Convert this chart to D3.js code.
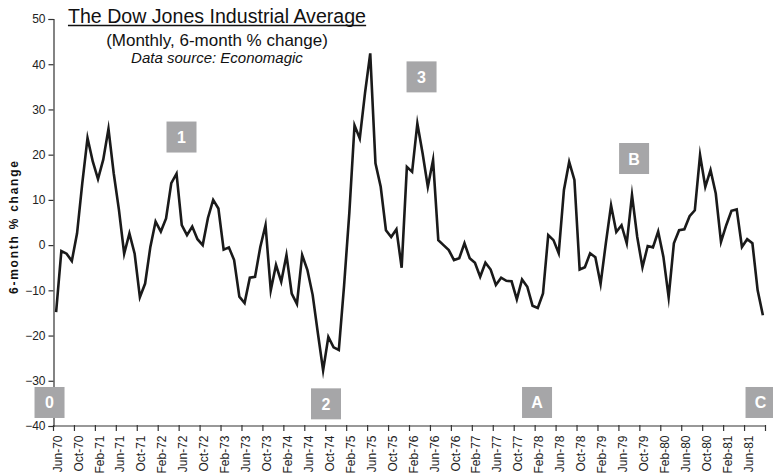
<!DOCTYPE html>
<html><head><meta charset="utf-8">
<script src="https://cdn.jsdelivr.net/npm/d3@7"></script>
<style>
html,body{margin:0;padding:0;background:#fff;}
svg{display:block;font-family:"Liberation Sans",Arial,sans-serif;}
</style></head>
<body>
<svg id="chart" width="773" height="473"></svg>
<script>
// Monthly 6-month % change, Jun-70 .. Sep-81 (136 months)
const values = [
 -14.8,-1.3,-1.9,-3.5,2.6,13.7,23.7,18.5,14.6,18.9,25.7,15.9,7.8,-1.9,2.6,-1.9,
 -11.5,-8.5,-0.4,5.2,3.0,5.9,13.7,15.8,4.4,2.2,4.1,1.3,0.0,6.0,10.0,8.1,
 -1.0,-0.5,-3.3,-11.4,-12.8,-7.2,-7.0,-0.4,4.4,-10.0,-4.4,-8.1,-2.2,-10.7,-13.0,-2.2,
 -5.5,-11.0,-19.5,-27.7,-20.3,-22.6,-23.2,-9.0,7.0,26.5,23.6,33.6,42.4,18.1,12.9,3.3,
 1.8,3.5,-5.0,17.3,16.2,26.9,20.3,12.9,18.8,1.1,0.0,-1.1,-3.3,-2.9,0.4,-2.9,
 -3.9,-7.0,-3.9,-5.4,-8.8,-7.2,-7.9,-8.0,-12.0,-7.6,-9.2,-13.4,-13.9,-10.7,2.2,1.1,
 -1.8,12.2,18.4,14.4,-5.4,-4.9,-1.8,-2.7,-8.6,0.4,8.8,2.9,4.4,0.4,11.1,1.8,
 -4.9,-0.2,-0.5,3.0,-2.6,-11.5,0.4,3.3,3.5,6.4,7.7,19.9,12.9,16.6,11.4,0.7,
 4.4,7.6,7.9,-0.4,1.3,0.4,-10.0,-15.5
];
const tickLabels = ["Jun-70","Oct-70","Feb-71","Jun-71","Oct-71","Feb-72","Jun-72","Oct-72",
 "Feb-73","Jun-73","Oct-73","Feb-74","Jun-74","Oct-74","Feb-75","Jun-75","Oct-75",
 "Feb-76","Jun-76","Oct-76","Feb-77","Jun-77","Oct-77","Feb-78","Jun-78","Oct-78",
 "Feb-79","Jun-79","Oct-79","Feb-80","Jun-80","Oct-80","Feb-81","Jun-81"];
const yTicks = [-40,-30,-20,-10,0,10,20,30,40,50];
const markerLabels = ["0","1","2","3","A","B","C"];
const markerMonth = [-1.26,23.95,51.55,69.8,91.86,110.4,134.55];
const markerValue = [-34.8,23.9,-35.1,37.2,-34.8,19.15,-34.8];
const titleText = "The Dow Jones Industrial Average";
const subtitleText = "(Monthly, 6-month % change)";
const sourceText = "Data source: Economagic";
const yLabelText = "6-month % change";

(function () {
const svg = d3.select("#chart");
const mLeft = 53.5, mRight = 765.5, mTop = 19, mBottom = 426;
const idx = d3.range(values.length);
const x = d3.scaleBand().domain(idx).range([mLeft, mRight]).paddingInner(0).paddingOuter(0);
const bw = x.bandwidth();
const xc = i => x(i) + bw / 2;
const xm = m => mLeft + (m + 0.5) * bw;
const y = d3.scaleLinear().domain([-40, 50]).range([mBottom, mTop]);

// y axis
const yAxis = d3.axisLeft(y).tickValues(yTicks).tickSize(5).tickPadding(3).tickFormat(d3.format("d"));
const gy = svg.append("g").attr("transform", `translate(${mLeft},0)`).call(yAxis);
gy.select(".domain").attr("stroke", "#333").attr("stroke-width", 1.2);
gy.selectAll(".tick line").attr("stroke", "#333").attr("stroke-width", 1.2);
gy.selectAll("text").attr("font-size", 12).attr("fill", "#222")
  .attr("font-family", '"Liberation Sans",Arial,sans-serif');

// x axis
const tickIdx = d3.range(0, values.length + 1, 4);
const gx = svg.append("g");
gx.append("line").attr("x1", mLeft).attr("x2", mRight).attr("y1", mBottom).attr("y2", mBottom)
  .attr("stroke", "#333").attr("stroke-width", 1.2);
gx.selectAll("line.tk").data(tickIdx).join("line").attr("class", "tk")
  .attr("x1", d => mLeft + d * bw).attr("x2", d => mLeft + d * bw)
  .attr("y1", mBottom - 1).attr("y2", mBottom + 5)
  .attr("stroke", "#333").attr("stroke-width", 1.2);
gx.selectAll("text").data(tickLabels).join("text")
  .attr("transform", (d, k) => `translate(${xc(k * 4) + 5.5},${mBottom + 9.5}) rotate(-90)`)
  .attr("text-anchor", "end")
  .attr("font-size", 12).attr("fill", "#222")
  .text(d => d);

// line
const line = d3.line().x((d, i) => xc(i)).y(d => y(d));
svg.append("path").datum(values).attr("d", line)
  .attr("fill", "none").attr("stroke", "#1a1a1a").attr("stroke-width", 2.6)
  .attr("stroke-linejoin", "miter").attr("stroke-miterlimit", 10);

// markers
const mg = svg.append("g");
markerLabels.forEach((lab, k) => {
  const cx = xm(markerMonth[k]), cy = y(markerValue[k]);
  mg.append("rect").attr("x", cx - 15).attr("y", cy - 15.5).attr("width", 30).attr("height", 31)
    .attr("fill", "#a6a6a8");
  mg.append("text").attr("x", cx).attr("y", cy + 6).attr("text-anchor", "middle")
    .attr("font-size", 16).attr("font-weight", "bold").attr("fill", "#fff").text(lab);
});

// titles
const tcx = 217;
const t = svg.append("text").attr("x", tcx).attr("y", 23).attr("text-anchor", "middle")
  .attr("font-size", 19.6).attr("fill", "#111").text(titleText);
const bb = t.node().getBBox();
svg.append("line").attr("x1", bb.x).attr("x2", bb.x + bb.width).attr("y1", 25.5).attr("y2", 25.5)
  .attr("stroke", "#111").attr("stroke-width", 1.3);
svg.append("text").attr("x", tcx).attr("y", 45.5).attr("text-anchor", "middle")
  .attr("font-size", 17).attr("fill", "#111").text(subtitleText);
svg.append("text").attr("x", tcx).attr("y", 63).attr("text-anchor", "middle")
  .attr("font-size", 15).attr("font-style", "italic").attr("fill", "#111").text(sourceText);

// y label
svg.append("text").attr("transform", "translate(18,227.5) rotate(-90)")
  .attr("text-anchor", "middle").attr("font-size", 12).attr("font-weight", "bold")
  .attr("fill", "#111").attr("textLength", 133).attr("lengthAdjust", "spacing")
  .text(yLabelText);
})();
</script>
</body></html>
